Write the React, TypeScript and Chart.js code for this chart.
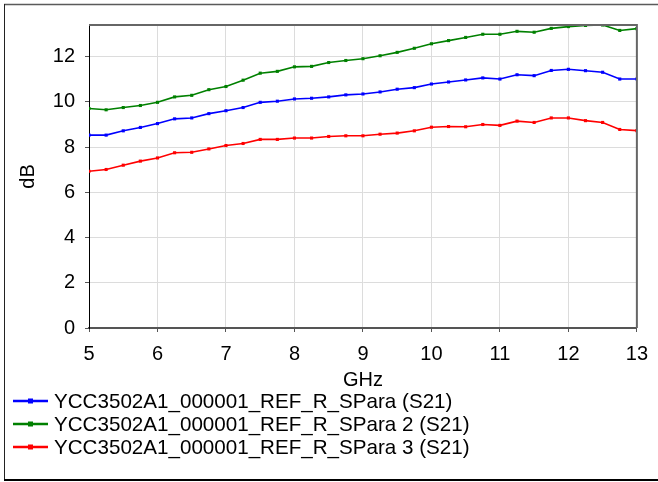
import React, { useEffect, useRef } from "react";
import { Chart, registerables } from "chart.js";

Chart.register(...registerables);

const freqGHz = [
  5, 5.25, 5.5, 5.75, 6, 6.25, 6.5, 6.75, 7, 7.25, 7.5, 7.75, 8, 8.25, 8.5, 8.75,
  9, 9.25, 9.5, 9.75, 10, 10.25, 10.5, 10.75, 11, 11.25, 11.5, 11.75, 12, 12.25,
  12.5, 12.75, 13,
];

const s21Para1 = [
  8.53, 8.53, 8.72, 8.87, 9.04, 9.25, 9.29, 9.48, 9.61, 9.75, 9.98, 10.03, 10.13,
  10.16, 10.22, 10.31, 10.35, 10.44, 10.56, 10.63, 10.79, 10.88, 10.97, 11.06,
  11.01, 11.2, 11.16, 11.39, 11.44, 11.38, 11.31, 11.01, 11.01,
];

const s21Para2 = [
  9.71, 9.65, 9.75, 9.84, 9.98, 10.22, 10.29, 10.54, 10.68, 10.96, 11.27, 11.35,
  11.55, 11.57, 11.74, 11.83, 11.91, 12.04, 12.19, 12.37, 12.57, 12.71, 12.85,
  12.99, 12.99, 13.12, 13.08, 13.25, 13.33, 13.38, 13.4, 13.16, 13.24,
];

const s21Para3 = [
  6.93, 7.01, 7.2, 7.38, 7.52, 7.75, 7.77, 7.92, 8.07, 8.16, 8.34, 8.34, 8.4, 8.4,
  8.47, 8.5, 8.5, 8.57, 8.62, 8.72, 8.88, 8.91, 8.9, 9.0, 8.96, 9.15, 9.09, 9.29,
  9.29, 9.17, 9.09, 8.78, 8.73,
];

const seriesLabels = [
  "YCC3502A1_000001_REF_R_SPara (S21)",
  "YCC3502A1_000001_REF_R_SPara 2 (S21)",
  "YCC3502A1_000001_REF_R_SPara 3 (S21)",
];
const seriesColors = ["#0000ff", "#008000", "#ff0000"];

const xAxisTitle = "GHz";
const yAxisTitle = "dB";

const FONT = '"Liberation Sans", Arial, sans-serif';

const framePlugin = {
  id: "frame",
  beforeDraw(chart: any) {
    const ctx = chart.ctx;
    ctx.save();
    ctx.fillStyle = "#ffffff";
    ctx.fillRect(0, 0, chart.width, chart.height);
    ctx.strokeStyle = "#5a5a5a";
    ctx.lineWidth = 1.5;
    ctx.beginPath();
    ctx.moveTo(4, 4.5);
    ctx.lineTo(chart.width, 4.5);
    ctx.stroke();
    ctx.strokeStyle = "#222222";
    ctx.lineWidth = 1;
    ctx.beginPath();
    ctx.moveTo(4.5, 4);
    ctx.lineTo(4.5, 481);
    ctx.stroke();
    ctx.strokeStyle = "#000000";
    ctx.lineWidth = 2;
    ctx.beginPath();
    ctx.moveTo(4, 480);
    ctx.lineTo(chart.width, 480);
    ctx.stroke();
    ctx.restore();
  },
  afterDatasetsDraw(chart: any) {
    const { ctx, chartArea } = chart;
    ctx.save();
    ctx.strokeStyle = "#666666";
    ctx.lineWidth = 2;
    ctx.beginPath();
    ctx.moveTo(chartArea.left, chartArea.top);
    ctx.lineTo(chartArea.right, chartArea.top);
    ctx.lineTo(chartArea.right, chartArea.bottom);
    ctx.stroke();
    ctx.restore();
  },
};

const legendPlugin = {
  id: "customLegend",
  afterDraw(chart: any) {
    const ctx = chart.ctx;
    ctx.save();
    chart.data.datasets.forEach((ds: any, i: number) => {
      const y = 401 + i * 23;
      ctx.strokeStyle = ds.borderColor;
      ctx.lineWidth = 2.5;
      ctx.beginPath();
      ctx.moveTo(13, y);
      ctx.lineTo(48, y);
      ctx.stroke();
      ctx.fillStyle = ds.borderColor;
      ctx.fillRect(28, y - 2.5, 5, 5);
      ctx.fillStyle = "#000000";
      ctx.font = `20.6px ${FONT}`;
      ctx.textBaseline = "middle";
      ctx.textAlign = "left";
      ctx.fillText(ds.label, 54, y + 1);
    });
    ctx.restore();
  },
};

export default function App() {
  const canvasRef = useRef<HTMLCanvasElement | null>(null);

  useEffect(() => {
    if (!canvasRef.current) return;
    const series = [s21Para1, s21Para2, s21Para3];
    const chart = new Chart(canvasRef.current, {
      type: "line",
      data: {
        datasets: series.map((vals, i) => ({
          label: seriesLabels[i],
          data: freqGHz.map((f, j) => ({ x: f, y: vals[j] })),
          borderColor: seriesColors[i],
          backgroundColor: seriesColors[i],
          borderWidth: 1.6,
          pointStyle: "rect",
          pointRadius: 2.2,
          pointBorderWidth: 0,
          tension: 0,
          fill: false,
        })),
      },
      options: {
        responsive: false,
        animation: false,
        events: [],
        layout: { padding: { top: 25, right: 19, left: 0, bottom: 89 } },
        plugins: {
          legend: { display: false },
          tooltip: { enabled: false },
        },
        scales: {
          x: {
            type: "linear",
            min: 5,
            max: 13,
            afterFit: (s: any) => {
              s.height = 65;
            },
            ticks: {
              stepSize: 1,
              padding: 10,
              color: "#000000",
              font: { family: FONT, size: 20 },
              maxRotation: 0,
            },
            grid: {
              color: "#dcdcdc",
              lineWidth: 1,
              tickLength: 4,
              tickColor: "#555555",
            },
            border: { color: "#555555", width: 2 },
            title: {
              display: true,
              text: xAxisTitle,
              color: "#000000",
              font: { family: FONT, size: 20 },
              padding: { top: 0, bottom: 1 },
            },
          },
          y: {
            type: "linear",
            min: 0,
            max: 13.4,
            afterFit: (s: any) => {
              s.width = 89;
            },
            ticks: {
              stepSize: 2,
              includeBounds: false,
              padding: 10,
              color: "#000000",
              font: { family: FONT, size: 20 },
            },
            grid: {
              color: "#dcdcdc",
              lineWidth: 1,
              tickLength: 4,
              tickColor: "#555555",
            },
            border: { color: "#000000", width: 1 },
            title: {
              display: true,
              text: yAxisTitle,
              color: "#000000",
              font: { family: FONT, size: 20 },
              padding: { top: 16, bottom: 0 },
            },
          },
        },
      },
      plugins: [framePlugin, legendPlugin],
    } as any);
    return () => chart.destroy();
  }, []);

  return (
    <div style={{ position: "absolute", left: 0, top: 0, width: 658, height: 482 }}>
      <canvas ref={canvasRef} width={658} height={482} style={{ display: "block" }} />
    </div>
  );
}
